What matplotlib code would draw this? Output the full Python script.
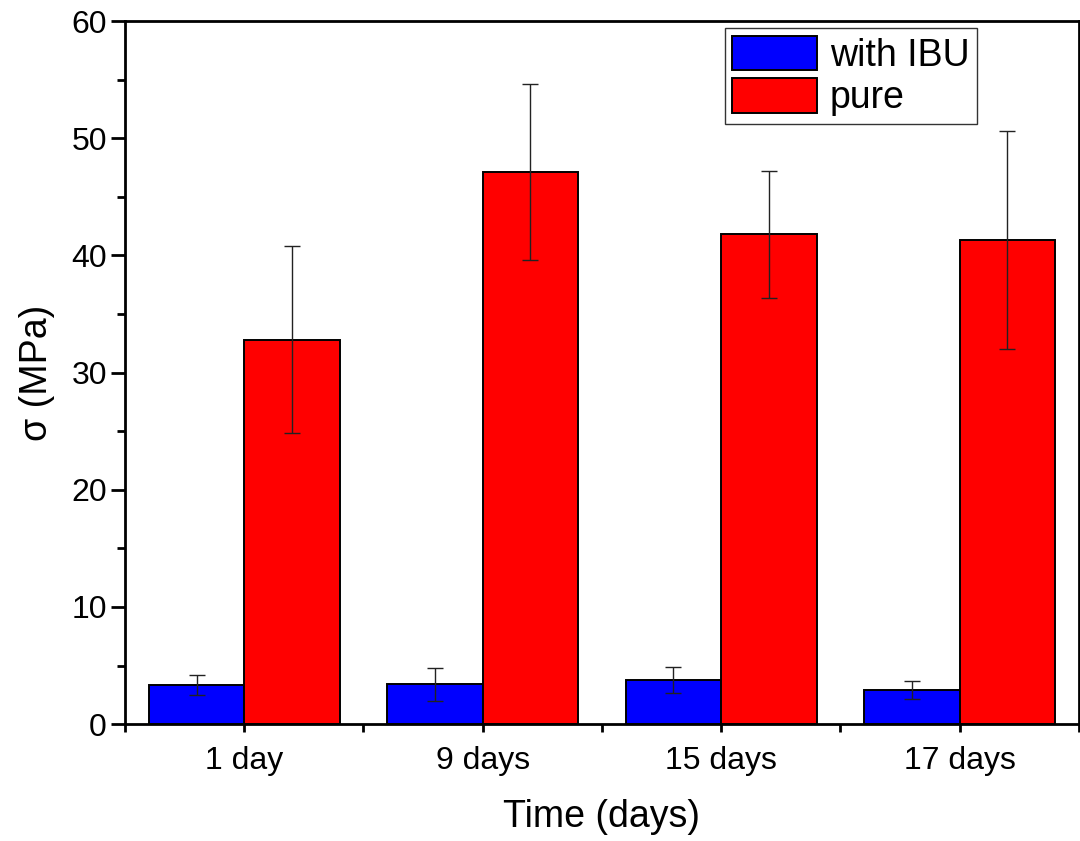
import numpy as np
import matplotlib.pyplot as plt
from matplotlib.ticker import MultipleLocator

plt.rcParams['font.family'] = ['Liberation Sans', 'DejaVu Sans']

# data
categories = ['1 day', '9 days', '15 days', '17 days']
ibu = [3.3, 3.4, 3.75, 2.9]
ibu_err = [0.85, 1.4, 1.1, 0.75]
pure = [32.8, 47.1, 41.8, 41.3]
pure_err = [8.0, 7.5, 5.4, 9.3]

x = np.arange(1, len(categories) + 1)
w = 0.4

fig = plt.figure(figsize=(10.8, 8.41), dpi=100)
ax = fig.add_axes([0.1157, 0.139, 0.8833, 0.836])

err_kw = dict(ecolor='#222222', elinewidth=1.0, capsize=5.5, capthick=1.0)
ax.bar(x - w / 2, ibu, w, yerr=ibu_err, color='#0000ff', edgecolor='black',
       linewidth=1.4, label='with IBU', error_kw=err_kw)
ax.bar(x + w / 2, pure, w, yerr=pure_err, color='#ff0000', edgecolor='black',
       linewidth=1.4, label='pure', error_kw=err_kw)

ax.set_xlim(0.5, 4.5)
ax.set_ylim(0, 60)
ax.set_xticks(x)
ax.set_xticklabels(categories)
ax.xaxis.set_minor_locator(MultipleLocator(0.5))
ax.yaxis.set_major_locator(MultipleLocator(10))
ax.yaxis.set_minor_locator(MultipleLocator(5))

for s in ax.spines.values():
    s.set_linewidth(2.0)
ax.tick_params(axis='both', which='both', direction='out', width=2.0, labelsize=23)
ax.tick_params(axis='y', which='major', length=10, pad=3)
ax.tick_params(axis='y', which='minor', length=6)
ax.tick_params(axis='x', which='major', length=6, pad=10)
ax.tick_params(axis='x', which='minor', length=6)

ax.set_xlabel('Time (days)', fontsize=27, labelpad=16)
ax.set_ylabel('σ (MPa)', fontsize=27, labelpad=12)

leg = ax.legend(loc='upper right', bbox_to_anchor=(0.893, 0.99), fontsize=27,
                frameon=True, fancybox=False, edgecolor='black',
                handlelength=2.25, handleheight=1.05, handletextpad=0.35,
                borderpad=0.2, labelspacing=0.12, borderaxespad=0)
leg.get_frame().set_linewidth(1.0)

fig.savefig('out.png', dpi=100)
